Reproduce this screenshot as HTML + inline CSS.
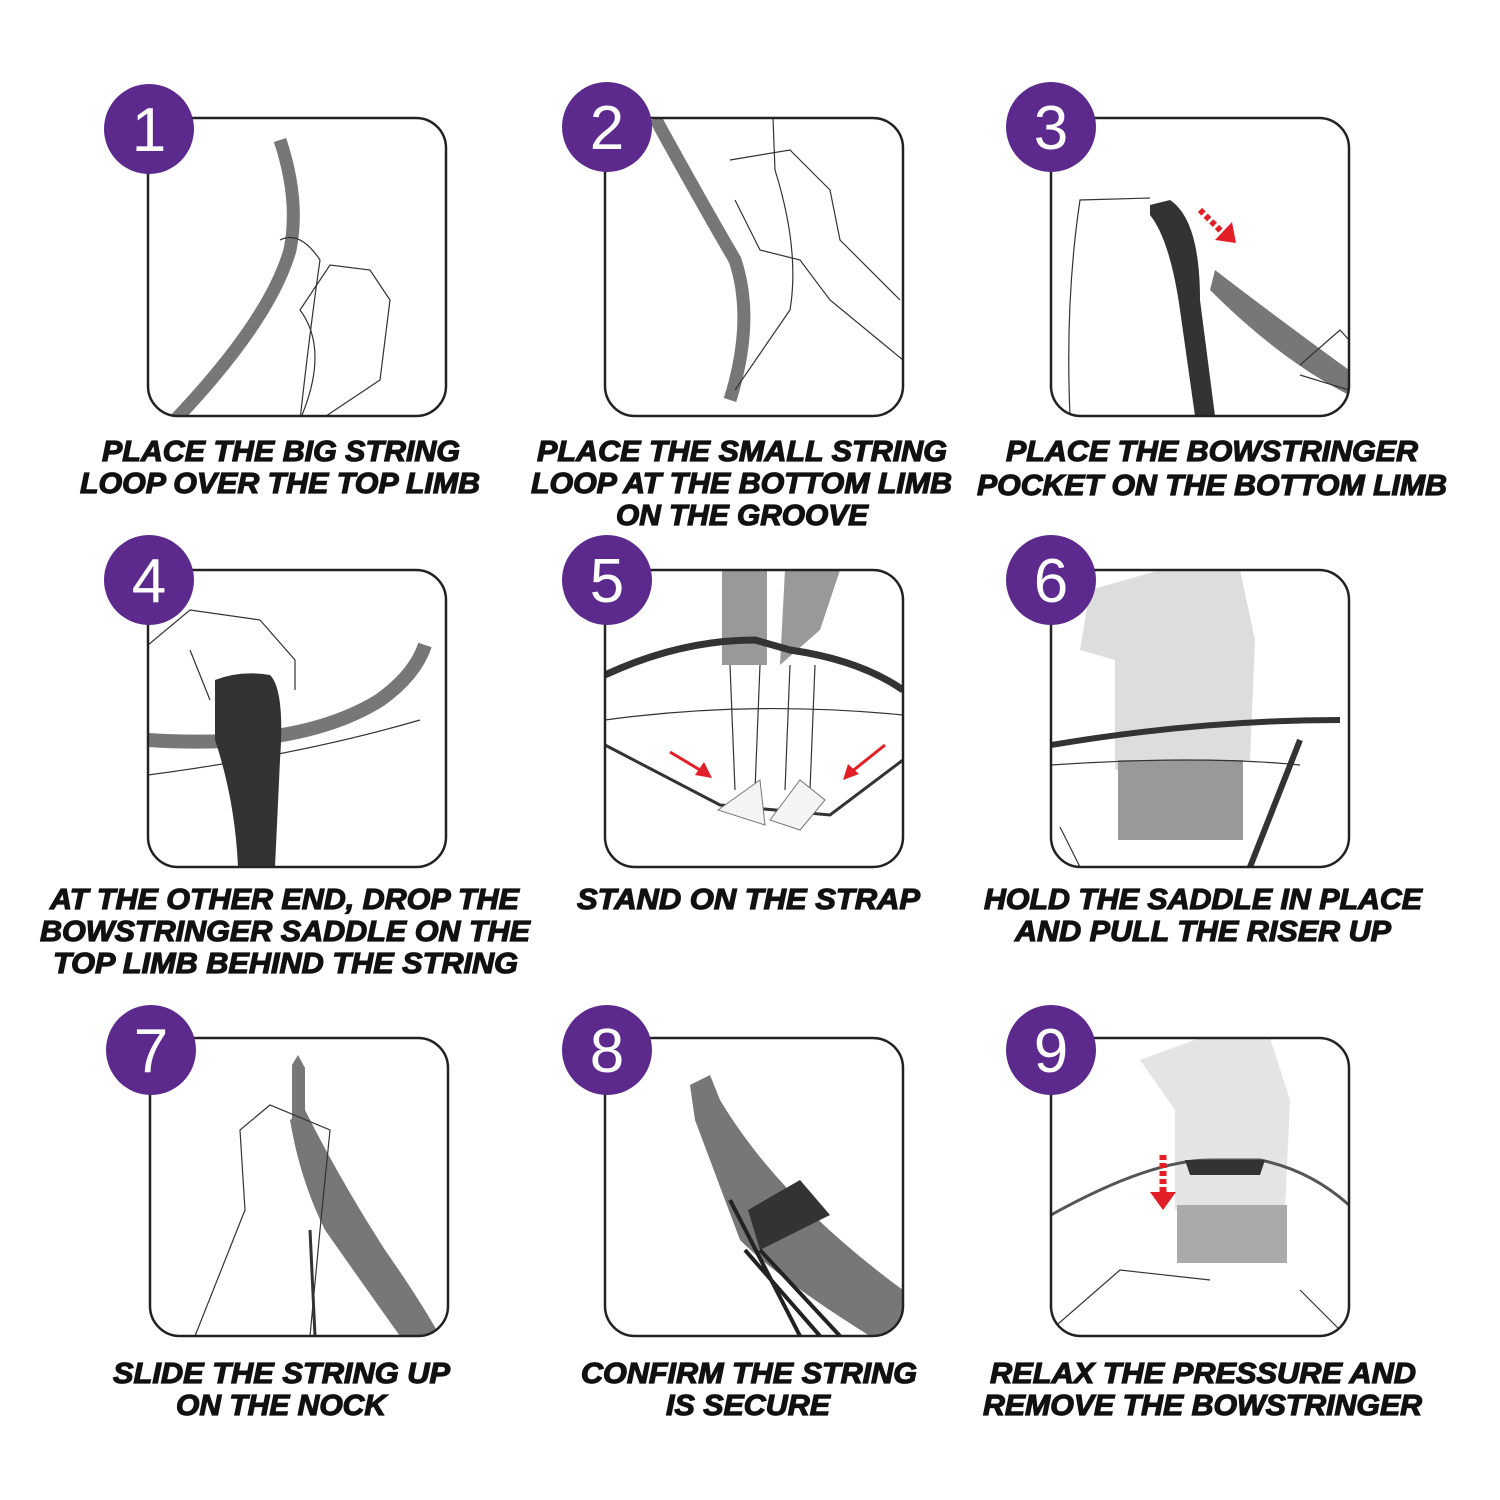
<!DOCTYPE html>
<html><head><meta charset="utf-8"><style>
html,body{margin:0;padding:0;background:#fff;width:1500px;height:1500px;overflow:hidden}
svg{display:block}
.t{font-family:"Liberation Sans",sans-serif;font-weight:bold;font-style:italic;font-size:29px;fill:#111;stroke:#111;stroke-width:1.2}
.n{font-family:"Liberation Sans",sans-serif;font-size:62px;fill:#fff;text-anchor:middle}
.box{fill:none;stroke:#222;stroke-width:2.5}
.c{fill:#5b2a8c}
.ln{fill:none;stroke:#333;stroke-width:1.2}
</style></head><body>
<svg width="1500" height="1500" viewBox="0 0 1500 1500">
<defs>
<clipPath id="c1"><rect x="148" y="118" width="298" height="298" rx="30"/></clipPath>
<clipPath id="c2"><rect x="605" y="118" width="298" height="298" rx="30"/></clipPath>
<clipPath id="c3"><rect x="1051" y="118" width="298" height="298" rx="30"/></clipPath>
<clipPath id="c4"><rect x="148" y="570" width="298" height="297" rx="30"/></clipPath>
<clipPath id="c5"><rect x="605" y="570" width="298" height="297" rx="30"/></clipPath>
<clipPath id="c6"><rect x="1051" y="570" width="298" height="297" rx="30"/></clipPath>
<clipPath id="c7"><rect x="150" y="1038" width="298" height="298" rx="30"/></clipPath>
<clipPath id="c8"><rect x="605" y="1038" width="298" height="298" rx="30"/></clipPath>
<clipPath id="c9"><rect x="1051" y="1038" width="298" height="298" rx="30"/></clipPath>
</defs>

<g clip-path="url(#c1)">
<path d="M280 140 Q300 200 290 250 Q270 320 175 420" stroke="#777" stroke-width="13" fill="none"/>
<path d="M300 420 Q330 350 300 310 L330 265 L370 270 L390 300 L380 380 L320 420" class="ln"/>
<path d="M280 240 Q300 230 320 260 Q310 330 300 420" class="ln"/>
</g>
<g clip-path="url(#c2)">
<path d="M655 118 Q700 200 735 260 Q755 320 730 400" stroke="#777" stroke-width="13" fill="none"/>
<path d="M773 118 L775 170 Q800 250 790 310 L735 390" class="ln"/>
<path d="M730 160 L790 150 L830 190 L840 240 L900 300" class="ln"/>
<path d="M735 200 L760 250 L800 260 L830 300 L903 360" class="ln"/>
</g>
<g clip-path="url(#c3)">
<path d="M1150 205 L1170 200 Q1200 220 1200 300 L1215 416 L1195 416 L1180 310 Q1170 240 1150 215Z" fill="#333"/>
<path d="M1215 270 Q1280 320 1349 370 L1349 395 Q1280 360 1210 290Z" fill="#777"/>
<path d="M1070 416 Q1065 300 1080 200 L1150 198" class="ln"/>
<path d="M1300 365 L1340 330 L1349 340 M1300 375 L1349 390" class="ln"/>
<path d="M1200 210 L1225 235" stroke="#e21f26" stroke-width="6" stroke-dasharray="5 3"/>
<path d="M1215 240 L1236 243 L1232 222Z" fill="#e21f26"/>
</g>
<g clip-path="url(#c4)">
<path d="M148 740 Q300 750 380 700 Q415 675 425 645" stroke="#777" stroke-width="14" fill="none"/>
<path d="M215 680 Q240 670 270 675 Q285 690 280 760 L275 867 L238 867 Q235 800 215 740Z" fill="#333"/>
<path d="M148 645 L190 610 L260 620 L295 660 L295 690 M190 650 L210 700" class="ln"/>
<path d="M148 775 Q300 755 420 720" class="ln"/>
</g>
<g clip-path="url(#c5)">
<rect x="722" y="570" width="45" height="95" fill="#999"/>
<path d="M785 570 L840 570 L820 630 L780 665Z" fill="#999"/>
<path d="M605 675 Q680 640 755 640 L790 650 Q860 660 903 690" stroke="#333" stroke-width="7" fill="none"/>
<path d="M605 745 L720 805 L830 815 L903 760" stroke="#333" stroke-width="3" fill="none"/>
<path d="M605 720 Q750 700 903 715" class="ln"/>
<path d="M730 665 L735 790 M760 665 L755 790 M790 665 L785 790 M815 665 L810 790" class="ln"/>
<path d="M718 810 L760 780 L765 825 Z M770 820 L800 780 L825 800 L800 830Z" fill="#f4f4f4" stroke="#777"/>
<path d="M670 752 L705 773" stroke="#e21f26" stroke-width="3"/><path d="M712 778 L695 775 L704 762Z" fill="#e21f26"/>
<path d="M885 745 L850 773" stroke="#e21f26" stroke-width="3"/><path d="M843 780 L848 764 L859 774Z" fill="#e21f26"/>
</g>
<g clip-path="url(#c6)">
<path d="M1090 590 L1160 570 L1240 570 L1255 640 L1250 760 L1115 770 L1115 660 L1080 650Z" fill="#ddd"/>
<rect x="1118" y="760" width="125" height="80" fill="#999"/>
<path d="M1051 745 Q1200 720 1340 720" stroke="#333" stroke-width="6" fill="none"/>
<path d="M1300 740 L1250 867" stroke="#333" stroke-width="6"/>
<path d="M1051 765 Q1200 755 1300 765" class="ln"/>
<path d="M1060 827 L1080 867" class="ln"/>
</g>
<g clip-path="url(#c7)">
<path d="M305 1110 Q340 1180 385 1250 Q420 1300 440 1336 L400 1336 Q360 1280 325 1230 Q300 1180 290 1120Z" fill="#777"/>
<path d="M292 1065 L298 1055 L305 1068 L305 1120 L292 1120Z" fill="#777"/>
<path d="M195 1336 L245 1210 L240 1130 L270 1105 L330 1130 L320 1230 L310 1336" class="ln"/>
<path d="M310 1230 L315 1336" stroke="#333" stroke-width="3"/>
</g>
<g clip-path="url(#c8)">
<path d="M690 1085 L710 1075 L720 1100 Q780 1200 903 1290 L903 1336 L870 1336 Q780 1280 740 1240 L695 1120Z" fill="#777"/>
<path d="M748 1210 L800 1180 L830 1215 L760 1250Z" fill="#333"/>
<path d="M730 1200 L800 1336 M745 1250 L820 1336 M760 1250 L840 1336" stroke="#222" stroke-width="4"/>
</g>
<g clip-path="url(#c9)">
<path d="M1140 1060 L1200 1038 L1270 1038 L1290 1100 L1285 1210 L1175 1210 L1175 1110Z" fill="#e4e4e4"/>
<rect x="1177" y="1205" width="110" height="58" fill="#aaa"/>
<path d="M1051 1215 Q1150 1160 1210 1160 L1260 1160 Q1310 1170 1349 1205" stroke="#555" stroke-width="3" fill="none"/>
<path d="M1185 1160 L1265 1160 L1260 1175 L1190 1175Z" fill="#333"/>
<path d="M1051 1330 L1120 1270 L1210 1280 M1300 1290 L1340 1330" class="ln"/>
<path d="M1163 1155 L1163 1195" stroke="#e21f26" stroke-width="7" stroke-dasharray="5 3"/>
<path d="M1150 1192 L1176 1192 L1163 1210Z" fill="#e21f26"/>
</g>

<rect class="box" x="148" y="118" width="298" height="298" rx="30"/>
<rect class="box" x="605" y="118" width="298" height="298" rx="30"/>
<rect class="box" x="1051" y="118" width="298" height="298" rx="30"/>
<rect class="box" x="148" y="570" width="298" height="297" rx="30"/>
<rect class="box" x="605" y="570" width="298" height="297" rx="30"/>
<rect class="box" x="1051" y="570" width="298" height="297" rx="30"/>
<rect class="box" x="150" y="1038" width="298" height="298" rx="30"/>
<rect class="box" x="605" y="1038" width="298" height="298" rx="30"/>
<rect class="box" x="1051" y="1038" width="298" height="298" rx="30"/>

<g>
<circle class="c" cx="149" cy="129" r="45"/><text class="n" x="149" y="151">1</text>
<circle class="c" cx="607" cy="127" r="45"/><text class="n" x="607" y="149">2</text>
<circle class="c" cx="1051" cy="127" r="45"/><text class="n" x="1051" y="149">3</text>
<circle class="c" cx="149" cy="580" r="45"/><text class="n" x="149" y="602">4</text>
<circle class="c" cx="607" cy="580" r="45"/><text class="n" x="607" y="602">5</text>
<circle class="c" cx="1051" cy="580" r="45"/><text class="n" x="1051" y="602">6</text>
<circle class="c" cx="151" cy="1050" r="45"/><text class="n" x="151" y="1072">7</text>
<circle class="c" cx="607" cy="1050" r="45"/><text class="n" x="607" y="1072">8</text>
<circle class="c" cx="1051" cy="1050" r="45"/><text class="n" x="1051" y="1072">9</text>
</g>

<g class="t">
<text x="102" y="461" textLength="358" lengthAdjust="spacingAndGlyphs">PLACE THE BIG STRING</text>
<text x="80" y="493" textLength="400" lengthAdjust="spacingAndGlyphs">LOOP OVER THE TOP LIMB</text>
<text x="537" y="461" textLength="410" lengthAdjust="spacingAndGlyphs">PLACE THE SMALL STRING</text>
<text x="531" y="493" textLength="421" lengthAdjust="spacingAndGlyphs">LOOP AT THE BOTTOM LIMB</text>
<text x="616" y="525" textLength="252" lengthAdjust="spacingAndGlyphs">ON THE GROOVE</text>
<text x="1006" y="461" textLength="412" lengthAdjust="spacingAndGlyphs">PLACE THE BOWSTRINGER</text>
<text x="977" y="495" textLength="470" lengthAdjust="spacingAndGlyphs">POCKET ON THE BOTTOM LIMB</text>
<text x="50" y="909" textLength="469" lengthAdjust="spacingAndGlyphs">AT THE OTHER END, DROP THE</text>
<text x="40" y="941" textLength="490" lengthAdjust="spacingAndGlyphs">BOWSTRINGER SADDLE ON THE</text>
<text x="53" y="973" textLength="465" lengthAdjust="spacingAndGlyphs">TOP LIMB BEHIND THE STRING</text>
<text x="577" y="909" textLength="343" lengthAdjust="spacingAndGlyphs">STAND ON THE STRAP</text>
<text x="984" y="909" textLength="438" lengthAdjust="spacingAndGlyphs">HOLD THE SADDLE IN PLACE</text>
<text x="1015" y="941" textLength="376" lengthAdjust="spacingAndGlyphs">AND PULL THE RISER UP</text>
<text x="113" y="1383" textLength="337" lengthAdjust="spacingAndGlyphs">SLIDE THE STRING UP</text>
<text x="176" y="1415" textLength="210" lengthAdjust="spacingAndGlyphs">ON THE NOCK</text>
<text x="581" y="1383" textLength="336" lengthAdjust="spacingAndGlyphs">CONFIRM THE STRING</text>
<text x="666" y="1415" textLength="164" lengthAdjust="spacingAndGlyphs">IS SECURE</text>
<text x="990" y="1383" textLength="426" lengthAdjust="spacingAndGlyphs">RELAX THE PRESSURE AND</text>
<text x="983" y="1415" textLength="439" lengthAdjust="spacingAndGlyphs">REMOVE THE BOWSTRINGER</text>
</g>
</svg>
</body></html>
